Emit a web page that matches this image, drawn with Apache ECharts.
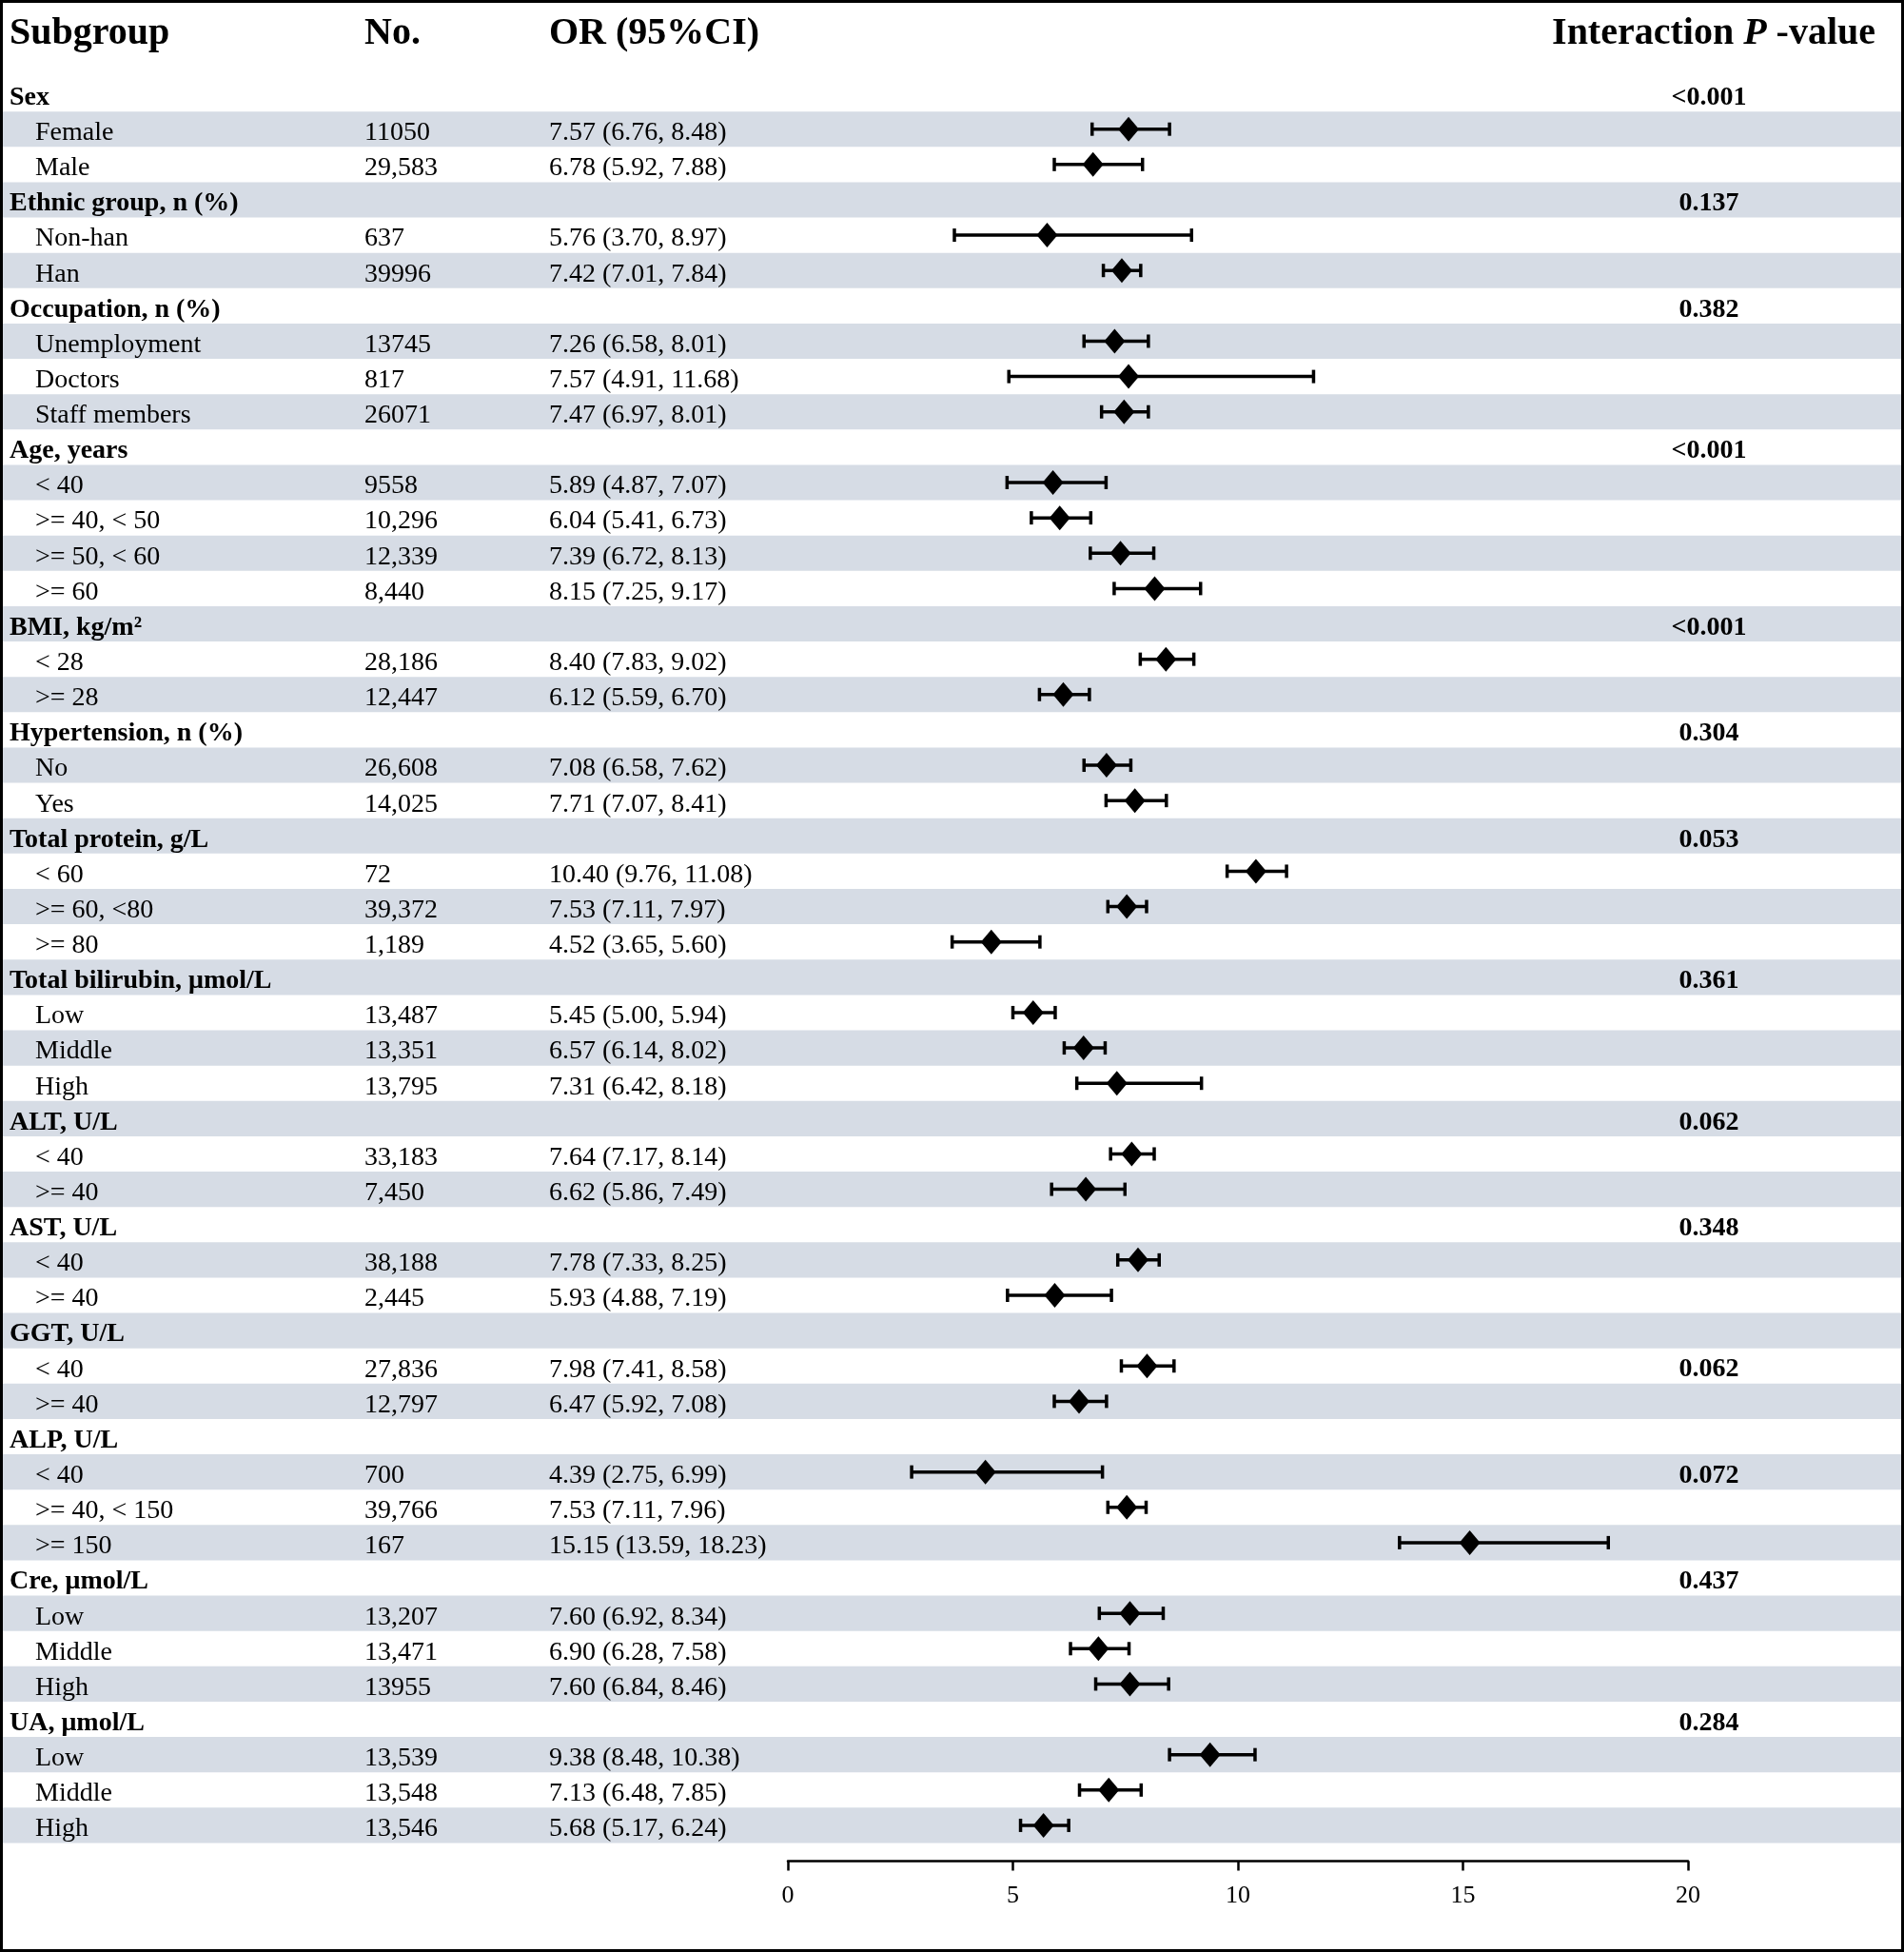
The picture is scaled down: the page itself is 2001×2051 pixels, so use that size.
<!DOCTYPE html>
<html>
<head>
<meta charset="utf-8">
<title>Subgroup analysis forest plot</title>
<script src="https://cdn.jsdelivr.net/npm/echarts@6/dist/echarts.min.js"></script>
<style>
html, body { margin: 0; padding: 0; background: #fff; }
#chart { width: 2001px; height: 2051px; }
</style>
</head>
<body>
<div id="chart"></div>
<script>
// table rows, top to bottom
var subgroups = [
    'Sex', 'Female', 'Male',
    'Ethnic group, n (%)', 'Non-han', 'Han',
    'Occupation, n (%)', 'Unemployment', 'Doctors', 'Staff members',
    'Age, years', '< 40', '>= 40, < 50', '>= 50, < 60', '>= 60',
    'BMI, kg/m²', '< 28', '>= 28',
    'Hypertension, n (%)', 'No', 'Yes',
    'Total protein, g/L', '< 60', '>= 60, <80', '>= 80',
    'Total bilirubin, μmol/L', 'Low', 'Middle', 'High',
    'ALT, U/L', '< 40', '>= 40',
    'AST, U/L', '< 40', '>= 40',
    'GGT, U/L', '< 40', '>= 40',
    'ALP, U/L', '< 40', '>= 40, < 150', '>= 150',
    'Cre, μmol/L', 'Low', 'Middle', 'High',
    'UA, μmol/L', 'Low', 'Middle', 'High'
];

var counts = [
    '', '11050', '29,583',
    '', '637', '39996',
    '', '13745', '817', '26071',
    '', '9558', '10,296', '12,339', '8,440',
    '', '28,186', '12,447',
    '', '26,608', '14,025',
    '', '72', '39,372', '1,189',
    '', '13,487', '13,351', '13,795',
    '', '33,183', '7,450',
    '', '38,188', '2,445',
    '', '27,836', '12,797',
    '', '700', '39,766', '167',
    '', '13,207', '13,471', '13955',
    '', '13,539', '13,548', '13,546'
];

var orText = [
    '', '7.57 (6.76, 8.48)', '6.78 (5.92, 7.88)',
    '', '5.76 (3.70, 8.97)', '7.42 (7.01, 7.84)',
    '', '7.26 (6.58, 8.01)', '7.57 (4.91, 11.68)', '7.47 (6.97, 8.01)',
    '', '5.89 (4.87, 7.07)', '6.04 (5.41, 6.73)', '7.39 (6.72, 8.13)', '8.15 (7.25, 9.17)',
    '', '8.40 (7.83, 9.02)', '6.12 (5.59, 6.70)',
    '', '7.08 (6.58, 7.62)', '7.71 (7.07, 8.41)',
    '', '10.40 (9.76, 11.08)', '7.53 (7.11, 7.97)', '4.52 (3.65, 5.60)',
    '', '5.45 (5.00, 5.94)', '6.57 (6.14, 8.02)', '7.31 (6.42, 8.18)',
    '', '7.64 (7.17, 8.14)', '6.62 (5.86, 7.49)',
    '', '7.78 (7.33, 8.25)', '5.93 (4.88, 7.19)',
    '', '7.98 (7.41, 8.58)', '6.47 (5.92, 7.08)',
    '', '4.39 (2.75, 6.99)', '7.53 (7.11, 7.96)', '15.15 (13.59, 18.23)',
    '', '7.60 (6.92, 8.34)', '6.90 (6.28, 7.58)', '7.60 (6.84, 8.46)',
    '', '9.38 (8.48, 10.38)', '7.13 (6.48, 7.85)', '5.68 (5.17, 6.24)'
];

var pValues = [
    '<0.001', '', '',
    '0.137', '', '',
    '0.382', '', '', '',
    '<0.001', '', '', '', '',
    '<0.001', '', '',
    '0.304', '', '',
    '0.053', '', '', '',
    '0.361', '', '', '',
    '0.062', '', '',
    '0.348', '', '',
    '', '0.062', '',
    '', '0.072', '', '',
    '0.437', '', '', '',
    '0.284', '', '', ''
];

// plotted estimates (as drawn)
var orValue = [
    null, 7.57, 6.78,
    null, 5.76, 7.42,
    null, 7.26, 7.57, 7.47,
    null, 5.89, 6.04, 7.39, 8.15,
    null, 8.40, 6.12,
    null, 7.08, 7.71,
    null, 10.40, 7.53, 4.52,
    null, 5.45, 6.57, 7.31,
    null, 7.64, 6.62,
    null, 7.78, 5.93,
    null, 7.98, 6.47,
    null, 4.39, 7.53, 15.15,
    null, 7.60, 6.90, 7.60,
    null, 9.38, 7.13, 5.68
];
var ciLow = [
    null, 6.76, 5.92,
    null, 3.70, 7.01,
    null, 6.58, 4.91, 6.97,
    null, 4.87, 5.41, 6.72, 7.25,
    null, 7.83, 5.59,
    null, 6.58, 7.07,
    null, 9.76, 7.11, 3.65,
    null, 5.00, 6.14, 6.42,
    null, 7.17, 5.86,
    null, 7.33, 4.88,
    null, 7.41, 5.92,
    null, 2.75, 7.11, 13.59,
    null, 6.92, 6.28, 6.84,
    null, 8.48, 6.48, 5.17
];
var ciHigh = [
    null, 8.48, 7.88,
    null, 8.97, 7.84,
    null, 8.01, 11.68, 8.01,
    null, 7.07, 6.73, 8.13, 9.17,
    null, 9.02, 6.70,
    null, 7.62, 8.41,
    null, 11.08, 7.97, 5.60,
    null, 5.94, 7.05, 9.19,
    null, 8.14, 7.49,
    null, 8.25, 7.19,
    null, 8.58, 7.08,
    null, 6.99, 7.96, 18.23,
    null, 8.34, 7.58, 8.46,
    null, 10.38, 7.85, 6.24
];

var xTicks = [0, 5, 10, 15, 20];

var FONT = "'Liberation Serif', 'Times New Roman', serif";
var BAND = '#D6DCE5';

var myChart = echarts.init(document.getElementById('chart'));

var rowIdx = subgroups.map(function (s, i) { return i; });
var bandData = subgroups.map(function (s, i) { return i % 2 === 1 ? 1 : '-'; });
var tableData = subgroups.map(function (s, i) { return [0, i]; });
var forestData = [];
orValue.forEach(function (v, i) {
    if (v !== null) forestData.push([i, v, ciLow[i], ciHigh[i]]);
});

function renderTable(params, api) {
    var i = params.dataIndex;
    var y = api.coord([0, i])[1] + 4;
    var isHead = counts[i] === '';
    var kids = [];
    function txt(str, x, bold, align) {
        kids.push({
            type: 'text',
            style: {
                text: str, x: x, y: y,
                fill: '#000',
                font: (bold ? 'bold ' : '') + '28px ' + FONT,
                align: align || 'left',
                verticalAlign: 'middle'
            }
        });
    }
    txt(subgroups[i], isHead ? 10 : 37, isHead);
    if (counts[i]) txt(counts[i], 383, false);
    if (orText[i]) txt(orText[i], 577, false);
    if (pValues[i]) txt(pValues[i], 1796, true, 'center');
    return { type: 'group', children: kids };
}

function renderForest(params, api) {
    var row = api.value(0);
    var c = api.coord([api.value(1), row]);
    var l = api.coord([api.value(2), row]);
    var h = api.coord([api.value(3), row]);
    var st = { stroke: '#000', lineWidth: 3.5 };
    return {
        type: 'group',
        children: [
            { type: 'line', shape: { x1: l[0], y1: l[1], x2: h[0], y2: h[1] }, style: st },
            { type: 'line', shape: { x1: l[0], y1: l[1] - 7, x2: l[0], y2: l[1] + 7 }, style: st },
            { type: 'line', shape: { x1: h[0], y1: h[1] - 7, x2: h[0], y2: h[1] + 7 }, style: st },
            {
                type: 'polygon',
                shape: { points: [[c[0], c[1] - 13], [c[0] + 11, c[1]], [c[0], c[1] + 13], [c[0] - 11, c[1]]] },
                style: { fill: '#000' }
            }
        ]
    };
}

var headFont = 'bold 40px ' + FONT;

var option = {
    animation: false,
    backgroundColor: '#fff',
    grid: [
        { left: 3, right: 3, top: 80, height: 1856.5 },
        { left: 828, width: 946, top: 80, height: 1856.5 }
    ],
    xAxis: [
        { gridIndex: 0, type: 'value', min: 0, max: 1, show: false },
        {
            gridIndex: 1, type: 'value', min: xTicks[0], max: xTicks[xTicks.length - 1], interval: 5,
            position: 'bottom', offset: 19,
            axisLine: { show: true, lineStyle: { color: '#000', width: 2.5 } },
            axisTick: { show: true, length: 10, lineStyle: { color: '#000', width: 2.5 } },
            axisLabel: { color: '#000', fontSize: 26, fontFamily: FONT, margin: 24 },
            splitLine: { show: false }
        }
    ],
    yAxis: [
        { gridIndex: 0, type: 'category', data: rowIdx, inverse: true, show: false },
        { gridIndex: 1, type: 'category', data: rowIdx, inverse: true, show: false }
    ],
    graphic: [
        { type: 'text', left: 10, top: 16, style: { text: 'Subgroup', font: headFont, fill: '#000' } },
        { type: 'text', left: 383, top: 16, style: { text: 'No.', font: headFont, fill: '#000' } },
        { type: 'text', left: 577, top: 16, style: { text: 'OR (95%CI)', font: headFont, fill: '#000' } },
        {
            type: 'text', right: 30, top: 16,
            style: {
                text: 'Interaction {i|P} -value', font: headFont, fill: '#000',
                rich: { i: { fontStyle: 'italic', fontWeight: 'bold', fontSize: 40, fontFamily: FONT, fill: '#000' } }
            }
        },
        {
            type: 'rect', z: 100,
            shape: { x: 1.5, y: 1.5, width: 1998, height: 2048 },
            style: { fill: 'none', stroke: '#000', lineWidth: 3 }
        }
    ],
    series: [
        {
            type: 'bar', xAxisIndex: 0, yAxisIndex: 0,
            data: bandData, barWidth: '100%',
            itemStyle: { color: BAND }, silent: true, z: 1
        },
        {
            type: 'custom', xAxisIndex: 0, yAxisIndex: 0,
            data: tableData, encode: { x: 0, y: 1 },
            renderItem: renderTable, silent: true, z: 3
        },
        {
            type: 'custom', xAxisIndex: 1, yAxisIndex: 1,
            data: forestData, encode: { x: [1, 2, 3], y: 0 },
            renderItem: renderForest, silent: true, z: 4
        }
    ]
};

myChart.setOption(option);
</script>
</body>
</html>
